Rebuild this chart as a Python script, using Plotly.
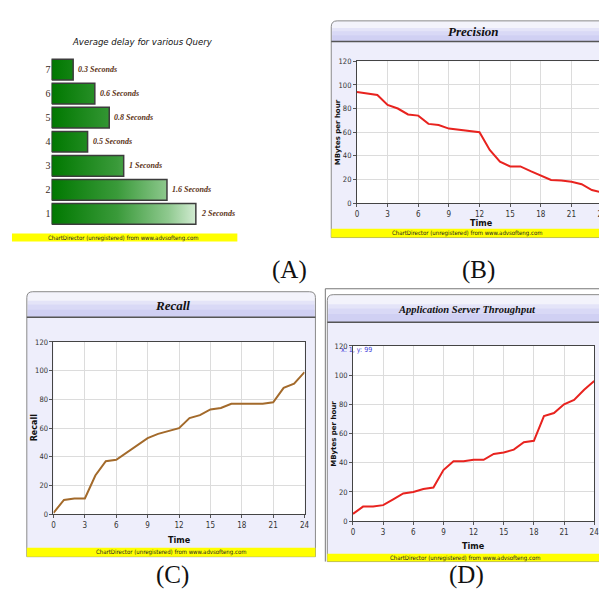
import plotly.graph_objects as go

W, H = 607, 596
OFF = 8  # page body margin offset of the plot div

# ---------------- data ----------------
queries = [1, 2, 3, 4, 5, 6, 7]
delay_seconds = [2, 1.6, 1, 0.5, 0.8, 0.6, 0.3]
delay_labels = ["2 Seconds", "1.6 Seconds", "1 Seconds", "0.5 Seconds",
                "0.8 Seconds", "0.6 Seconds", "0.3 Seconds"]

hours = list(range(25))
precision = [94, 93, 91.5, 83, 80, 75, 74, 67, 66, 63, 62, 61, 60,
             45, 35, 31, 31, 27, 23, 19.5, 19, 18, 16, 11, 9]
recall = [1, 10, 11, 11, 27, 37, 38, 43, 48, 53, 56, 58, 60,
          67, 69, 73, 74, 77, 77, 77, 77, 78, 88, 91, 99]
throughput = [5, 10, 10, 11, 15, 19, 20, 22, 23, 35, 41, 41, 42,
              42, 46, 47, 49, 54, 55, 72, 74, 80, 83, 90, 96]

time_ticks = [0, 3, 6, 9, 12, 15, 18, 21, 24]
value_ticks = [0, 20, 40, 60, 80, 100, 120]


def X(p):
    return (p - OFF) / W


def Y(p):
    return 1 - (p - OFF) / H


NARROW = "Liberation Sans Narrow, DejaVu Sans Condensed, Arial Narrow, Liberation Sans, sans-serif"
SERIF = "Liberation Serif, DejaVu Serif, serif"

fig = go.Figure()
shapes = []
annos = []


def note(text, px, py, size, family=NARROW, color="#111", angle=0, xanchor="center"):
    annos.append(dict(x=X(px), y=Y(py), xref="paper", yref="paper", text=text,
                      showarrow=False, xanchor=xanchor, yanchor="middle", textangle=angle,
                      font=dict(family=family, size=size, color=color)))


# ---------------- panel A : bar chart ----------------
bar_h = 0.43
for q, v in zip(queries, delay_seconds):
    fig.add_trace(go.Scatter(
        x=[0, v, v, 0, 0], y=[q - bar_h, q - bar_h, q + bar_h, q + bar_h, q - bar_h],
        mode="lines", fill="toself",
        fillgradient=dict(type="horizontal", start=0, stop=2,
                          colorscale=[[0, "#007800"], [0.45, "#3a9a3a"],
                                      [0.8, "#8fc98f"], [1, "#d6edd6"]]),
        line=dict(color="#3c3c3c", width=1.5),
        xaxis="x", yaxis="y", showlegend=False, hoverinfo="skip"))
for q, v, lab in zip(queries, delay_seconds, delay_labels):
    annos.append(dict(x=v, y=q, xref="x", yref="y", text="<b><i>%s</i></b>" % lab,
                      showarrow=False, xanchor="left", yanchor="middle", xshift=3,
                      font=dict(family=SERIF, size=8, color="#5b3216")))

note("<i>Average delay for various Query</i>", 142, 38, 9.5)

# ---------------- helper for ChartDirector-like panels ----------------
def rounded_top(x0, x1, y0, y1, r=6):
    rx, ry = r / W, r / H
    a, b, t, bt = X(x0), X(x1), Y(y0), Y(y1)
    return (f"M {a},{bt} L {a},{t - ry} Q {a},{t} {a + rx},{t} "
            f"L {b - rx},{t} Q {b},{t} {b},{t - ry} L {b},{bt} Z")


def panel(x0, x1, top, hb, yb0, yb1, title, tsize, tx, ty, plot_ref):
    shapes.append(dict(type="rect", xref="paper", yref="paper", layer="below",
                       x0=X(x0), x1=X(x1), y0=Y(yb1), y1=Y(hb),
                       fillcolor="#eeeefb", line=dict(width=0)))
    shapes.append(dict(type="path", xref="paper", yref="paper", layer="below",
                       path=rounded_top(x0, x1, top, hb),
                       fillcolor="#f3f3fb", line=dict(width=0)))
    hh = hb - top
    bands = [(0.35, "#e4e4f8"), (0.5, "#d9d9f6"), (0.7, "#d0d0f3")]
    for frac, col in bands:
        shapes.append(dict(type="rect", xref="paper", yref="paper", layer="below",
                           x0=X(x0 + 1), x1=X(x1 - 1), y0=Y(hb), y1=Y(top + hh * frac),
                           fillcolor=col, line=dict(width=0)))
    shapes.append(dict(type="path", xref="paper", yref="paper", layer="below",
                       path=rounded_top(x0, x1, top, yb1),
                       fillcolor="rgba(0,0,0,0)", line=dict(color="#8a8a8a", width=1)))
    shapes.append(dict(type="line", xref="paper", yref="paper", layer="below",
                       x0=X(x0), x1=X(x1), y0=Y(hb), y1=Y(hb),
                       line=dict(color="#555", width=1.5)))
    shapes.append(dict(type="rect", xref="paper", yref="paper", layer="below",
                       x0=X(x0), x1=X(x1), y0=Y(yb1), y1=Y(yb0),
                       fillcolor="#ffff00", line=dict(width=0)))
    shapes.append(dict(type="rect", xref=plot_ref[0] + " domain", yref=plot_ref[1] + " domain",
                       layer="below", x0=0, x1=1, y0=0, y1=1,
                       fillcolor="white", line=dict(width=0)))
    note("<b><i>%s</i></b>" % title, tx, ty, tsize, family=SERIF)
    note("ChartDirector (unregistered) from www.advsofteng.com",
         (x0 + min(x1, W)) / 2, (yb0 + yb1) / 2, 6, color="#222")


# yellow band of panel A
shapes.append(dict(type="rect", xref="paper", yref="paper", layer="below",
                   x0=X(10), x1=X(238), y0=Y(241), y1=Y(233),
                   fillcolor="#ffff00", line=dict(width=0)))
note("ChartDirector (unregistered) from www.advsofteng.com", 122, 237, 6, color="#222")

panel(333, 620, 17, 38, 228, 237, "Precision", 13, 477, 28, ("x2", "y2"))
panel(25, 317, 292, 318, 552, 561, "Recall", 13, 172, 306, ("x3", "y3"))
panel(329, 620, 295, 323, 558, 566, "Application Server Throughput", 10.5, 470, 310, ("x4", "y4"))
shapes.append(dict(type="line", xref="paper", yref="paper", x0=X(327), x1=X(620),
                   y0=Y(289), y1=Y(289), line=dict(color="#777", width=1)))
shapes.append(dict(type="line", xref="paper", yref="paper", x0=X(327), x1=X(327),
                   y0=Y(289), y1=Y(566), line=dict(color="#777", width=1)))

# ---------------- line traces ----------------
fig.add_trace(go.Scatter(x=hours, y=precision, mode="lines", xaxis="x2", yaxis="y2",
                         line=dict(color="#e8231f", width=2), showlegend=False))
fig.add_trace(go.Scatter(x=hours, y=recall, mode="lines", xaxis="x3", yaxis="y3",
                         line=dict(color="#a36a2b", width=2), showlegend=False))
fig.add_trace(go.Scatter(x=hours, y=throughput, mode="lines", xaxis="x4", yaxis="y4",
                         line=dict(color="#e8231f", width=2), showlegend=False))


def axis_titles(ytitle, yx, yy, tx, ty, ysize=7):
    note("<b>%s</b>" % ytitle, yx, yy, ysize, family="DejaVu Sans, sans-serif", angle=-90)
    note("<b>Time</b>", tx, ty, 9)


axis_titles("MBytes per hour", 340, 130, 485, 222)
axis_titles("Recall", 33, 430, 179, 544, ysize=8)
axis_titles("MBytes per hour", 335, 436, 477, 550)

note("x: 1, y: 99", 341, 351, 7, color="#3a3ad8", xanchor="left")

for lab, cx, cy in [("(A)", 291, 270), ("(B)", 482, 270), ("(C)", 172, 580), ("(D)", 470, 580)]:
    note(lab, cx, cy, 25, family=SERIF)

# ---------------- axes ----------------
line_axis = dict(range=[0, 24], tickvals=time_ticks, ticks="outside", ticklen=3,
                 tickcolor="#555", showline=True, mirror=True, linecolor="#444", linewidth=1,
                 showgrid=True, gridcolor="#dcdcdc", zeroline=False,
                 tickfont=dict(family=NARROW, size=8, color="#333"))
val_axis = dict(range=[0, 120], tickvals=value_ticks, ticks="outside", ticklen=3,
                tickcolor="#555", showline=True, mirror=True, linecolor="#444", linewidth=1,
                showgrid=True, gridcolor="#dcdcdc", zeroline=False,
                tickfont=dict(family=NARROW, size=7.5, color="#333"))

fig.update_layout(
    width=W, height=H, margin=dict(l=0, r=0, t=0, b=0),
    paper_bgcolor="white", plot_bgcolor="rgba(0,0,0,0)",
    xaxis=dict(domain=[X(50), X(235)], range=[0, 2.534], visible=False),
    yaxis=dict(domain=[Y(225.2), Y(54.3)], range=[0.5, 7.5], tickvals=queries,
               ticktext=[str(q) for q in queries], showgrid=False, zeroline=False,
               showline=False, ticks="", anchor="x",
               tickfont=dict(family=SERIF, size=10, color="#3a2a1a")),
    xaxis2=dict(domain=[X(359), X(607)], anchor="y2", **line_axis),
    yaxis2=dict(domain=[Y(202), Y(58)], anchor="x2", **val_axis),
    xaxis3=dict(domain=[X(52), X(306)], anchor="y3", **line_axis),
    yaxis3=dict(domain=[Y(518), Y(343)], anchor="x3", **val_axis),
    xaxis4=dict(domain=[X(355), X(599)], anchor="y4", **line_axis),
    yaxis4=dict(domain=[Y(525), Y(347)], anchor="x4", **val_axis),
    shapes=shapes, annotations=annos,
)

fig.write_html("out.html")
